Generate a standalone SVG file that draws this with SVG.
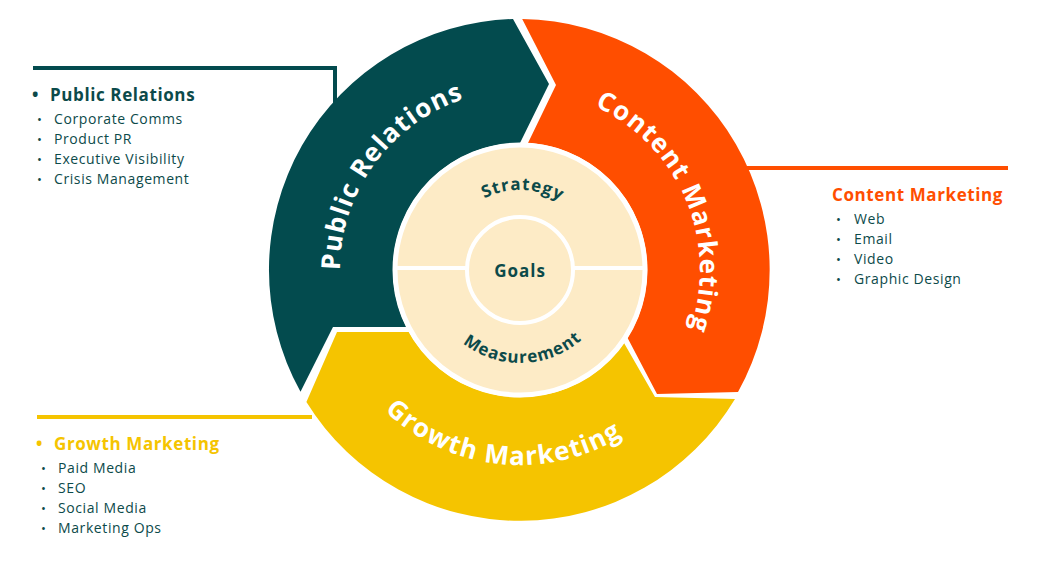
<svg xmlns="http://www.w3.org/2000/svg" width="1038" height="576" viewBox="0 0 1038 576">
<style>
.h{font-family:"Open Sans","Liberation Sans",sans-serif;font-weight:700;font-size:17px;letter-spacing:0.6px}
.it{font-family:"Open Sans","Liberation Sans",sans-serif;font-size:14px;fill:#0c4a4a;letter-spacing:0.6px}
.b{font-family:"Open Sans","Liberation Sans",sans-serif;font-size:13px;fill:#0c4a4a}
.arc{font-family:"Open Sans","Liberation Sans",sans-serif;font-weight:700;fill:#fff;font-size:26px;letter-spacing:1.2px}
.in{font-family:"Open Sans","Liberation Sans",sans-serif;font-weight:700;fill:#0c4a4a;font-size:17px;letter-spacing:1px}
.ln{fill:none;stroke-width:4}
</style>
<defs>
<path id="pPR" d="M370.8,370.7 A180,180 0 0 1 569.6,97"/>
<path id="pCM" d="M510.6,90.3 A180,180 0 0 1 642.8,401.6"/>
<path id="pGM" d="M330.8,317.2 A195,195 0 0 0 695.3,355.5"/>
<path id="pST" d="M445.8,240 A80,80 0 0 1 596.1,245.3"/>
<path id="pME" d="M433.8,304.8 A93,93 0 0 0 608.5,298.7"/>
</defs>
<rect width="1038" height="576" fill="#fff"/>
<g id="connectors">
<polyline class="ln" stroke="#034b4e" points="33,68 335,68 335,105"/>
<line class="ln" stroke="#ff4e00" x1="740" y1="168" x2="1008" y2="168"/>
<line class="ln" stroke="#f5c400" x1="37" y1="417" x2="312" y2="417"/>
</g>
<g id="public-relations">
<path fill="#034b4e" d="M513,19 A251,251 0 0 0 300.5,391.7 L333,327 L406.5,327 A127,127 0 0 1 520,143 L549,84 Z"/>
<text class="arc"><textPath href="#pPR" startOffset="50%" text-anchor="middle">Public Relations</textPath></text>
</g>
<g id="content-marketing">
<path fill="#ff4e00" d="M522.2,19 A251,251 0 0 1 738,392 L657,394 L627.5,337.7 A127,127 0 0 0 528,143 L556,85 Z"/>
<text class="arc"><textPath href="#pCM" startOffset="50%" text-anchor="middle">Content Marketing</textPath></text>
</g>
<g id="growth-marketing">
<path fill="#f5c400" d="M735,399 A251,251 0 0 1 306.4,402 L337,332 L409,332 A127,127 0 0 0 624,343 L655,397 Z"/>
<text class="arc"><textPath href="#pGM" startOffset="50%" text-anchor="middle">Growth Marketing</textPath></text>
</g>
<g id="center">
<circle cx="520" cy="270" r="125" fill="#fdebc6" stroke="#fff" stroke-width="5"/>
<line x1="395" y1="268" x2="645" y2="268" stroke="#fff" stroke-width="4"/>
<circle cx="520" cy="270" r="53" fill="#fdebc6" stroke="#fff" stroke-width="4"/>
<text class="in"><textPath href="#pST" startOffset="50%" text-anchor="middle">Strategy</textPath></text>
<text class="in"><textPath href="#pME" startOffset="50%" text-anchor="middle">Measurement</textPath></text>
<text class="in" x="520" y="277" text-anchor="middle" font-size="19">Goals</text>
</g>
<g id="pr-list">
<text class="h" x="32" y="101" fill="#0c4a4a">•</text>
<text class="h" x="50" y="101" fill="#0c4a4a">Public Relations</text>
<text class="b" x="37" y="124">•</text><text class="it" x="54" y="124">Corporate Comms</text>
<text class="b" x="37" y="144">•</text><text class="it" x="54" y="144">Product PR</text>
<text class="b" x="37" y="164">•</text><text class="it" x="54" y="164">Executive Visibility</text>
<text class="b" x="37" y="184">•</text><text class="it" x="54" y="184">Crisis Management</text>
</g>
<g id="cm-list">
<text class="h" x="832" y="201" fill="#ff4e00">Content Marketing</text>
<text class="b" x="836" y="224">•</text><text class="it" x="854" y="224">Web</text>
<text class="b" x="836" y="244">•</text><text class="it" x="854" y="244">Email</text>
<text class="b" x="836" y="264">•</text><text class="it" x="854" y="264">Video</text>
<text class="b" x="836" y="284">•</text><text class="it" x="854" y="284">Graphic Design</text>
</g>
<g id="gm-list">
<text class="h" x="36" y="450" fill="#f5c400">•</text>
<text class="h" x="54" y="450" fill="#f5c400">Growth Marketing</text>
<text class="b" x="41" y="473">•</text><text class="it" x="58" y="473">Paid Media</text>
<text class="b" x="41" y="493">•</text><text class="it" x="58" y="493">SEO</text>
<text class="b" x="41" y="513">•</text><text class="it" x="58" y="513">Social Media</text>
<text class="b" x="41" y="533">•</text><text class="it" x="58" y="533">Marketing Ops</text>
</g>
</svg>
